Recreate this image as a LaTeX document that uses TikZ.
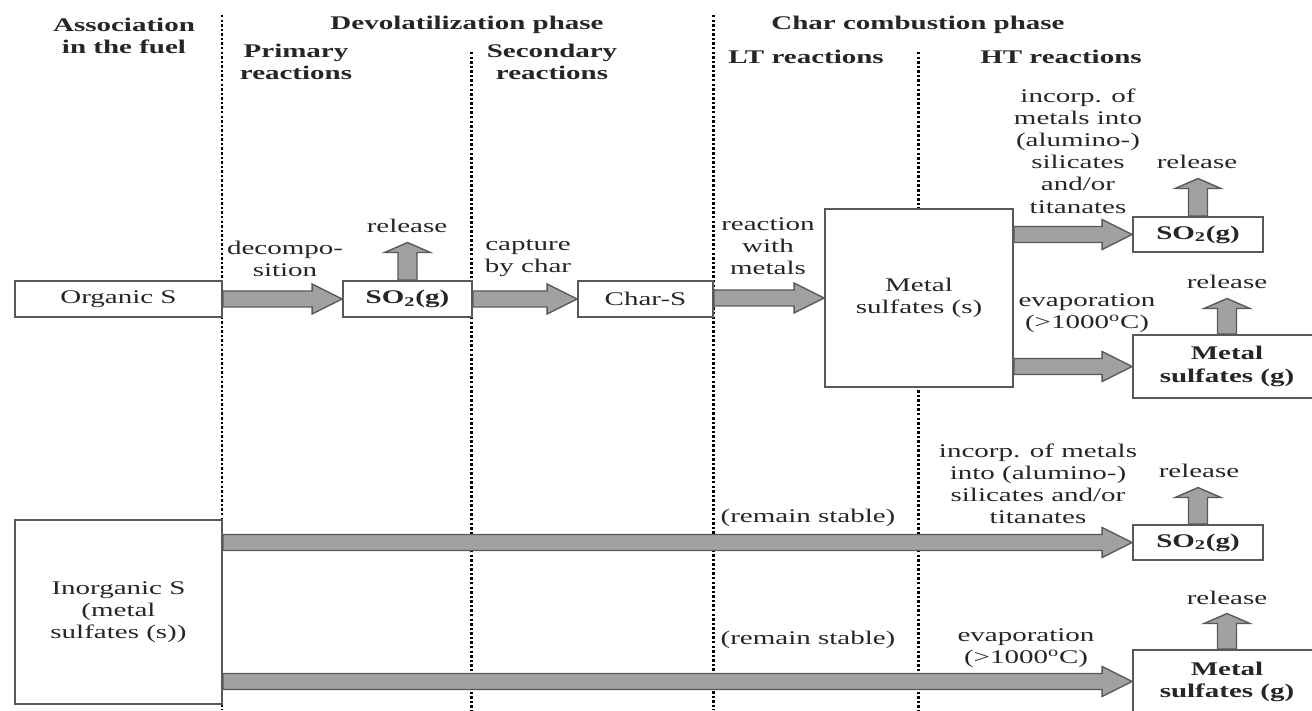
\documentclass[tikz,border=0pt]{standalone}
\usepackage{fontspec}
\setmainfont{Liberation Serif}[FakeStretch=1.5]
\usetikzlibrary{calc}
\def\hfat(#1)(#2){\draw[fatarrow] let \p1=(#1), \p2=(#2) in (\x1,\y2+0.16cm) -- (\x2-0.6cm,\y2+0.16cm) -- (\x2-0.6cm,\y2+0.3cm) -- (\x2,\y2) -- (\x2-0.6cm,\y2-0.3cm) -- (\x2-0.6cm,\y2-0.16cm) -- (\x1,\y2-0.16cm) -- cycle;}
\def\vfat(#1)(#2){\draw[fatarrow] let \p1=(#1), \p2=(#2) in (\x1-0.19cm,\y1) -- (\x1-0.19cm,\y2-0.2cm) -- (\x1-0.46cm,\y2-0.2cm) -- (\x1,\y2) -- (\x1+0.46cm,\y2-0.2cm) -- (\x1+0.19cm,\y2-0.2cm) -- (\x1+0.19cm,\y1) -- cycle;}
\tikzset{
	box/.style={draw=black!65, line width=1pt, fill=white, inner sep=0pt, align=center, text=black!85},
	lbl/.style={align=center, text=black!85, inner sep=0pt},
	head/.style={lbl, font=\bfseries},
	rel/.style={lbl, anchor=base, inner sep=0.18cm},
	phase/.style={black, line width=1.7pt, dash pattern=on 1.4pt off 1.2pt},
	fatarrow/.style={draw=black!65, fill=black!37, line width=0.8pt, line join=miter},
}
\begin{document}
\fontsize{11}{12.6}\selectfont
\begin{tikzpicture}
			%%%%% START %%%%%
			\useasboundingbox (0, 0) rectangle (26.24, 14.2);
			
			\node[head] (assoc) at (2.48, 13.48) {Association\\in the fuel};
			\node[head] (devol) at (9.34, 13.7) {Devolatilization phase};
			\node[head] (prim) at (5.92, 12.96) {Primary\\reactions};
			\node[head] (sec) at (11.04, 12.96) {Secondary\\reactions};
			\node[head] (charc) at (18.36, 13.7) {Char combustion phase};
			\node[head] (lt) at (16.12, 13.06) {LT reactions};
			\node[head] (ht) at (21.22, 13.06) {HT reactions};
			
			\draw[phase] (4.44, 13.9) -- (4.44, 0);
			\draw[phase] (9.42, 13.16) -- (9.42, 0);
			\draw[phase] (14.26, 13.9) -- (14.26, 0);
			\draw[phase] (18.36, 13.16) -- (18.36, 0);
			
			\node[box, minimum width=4.14cm, minimum height=0.72cm] (orgS) at (2.37, 8.22) {Organic S};
			\node[box, font=\bfseries, minimum width=2.58cm, minimum height=0.72cm] (so2a) at (8.15, 8.22) {SO\textsubscript{2}(g)};
			\node[box, minimum width=2.7cm, minimum height=0.72cm] (charS) at (12.91, 8.22) {Char-S};
			\node[box, minimum width=3.76cm, minimum height=3.56cm] (mss) at (18.38, 8.24) {Metal\\sulfates (s)};
			
			\node[box, font=\bfseries, minimum width=2.6cm, minimum height=0.7cm] (so2b) at (23.96, 9.51) {SO\textsubscript{2}(g)};
			\node[box, font=\bfseries, minimum width=3.76cm, minimum height=1.26cm] (msg) at (24.54, 6.87) {Metal\\sulfates (g)};
			
			\node[box, minimum width=4.14cm, minimum height=3.68cm] (inorgS) at (2.37, 1.96) {Inorganic S\\(metal\\sulfates (s))};
			\node[box, font=\bfseries, minimum width=2.6cm, minimum height=0.7cm] (so2c) at (23.96, 3.35) {SO\textsubscript{2}(g)};
			\node[box, font=\bfseries, minimum width=3.76cm, minimum height=1.26cm] (msg2) at (24.54, 0.57) {Metal\\sulfates (g)};
			
			\node[lbl] (decomp) at (5.70, 9.03) {decompo-\\sition};
			\node[lbl] (capt) at (10.56, 9.03) {capture\\by char};
			\node[lbl] (react) at (15.36, 9.27) {reaction\\with\\metals};
			\node[lbl] (incorpA) at (21.56, 11.18) {incorp. of\\metals into\\(alumino-)\\silicates\\and/or\\titanates};
			\node[lbl] (evapA) at (21.74, 7.93) {evaporation\\(>1000\textsuperscript{o}C)};
			\node[lbl] (stableA) at (16.16, 3.84) {(remain stable)};
			\node[lbl] (incorpB) at (20.76, 4.52) {incorp. of metals\\into (alumino-)\\silicates and/or\\titanates};
			\node[lbl] (stableB) at (16.16, 1.4) {(remain stable)};
			\node[lbl] (evapB) at (20.52, 1.23) {evaporation\\(>1000\textsuperscript{o}C)};
			
			\node[rel] (relA) at (8.14, 9.54) {release};
			\node[rel] (relB) at (23.94, 10.82) {release};
			\node[rel] (relC) at (24.54, 8.42) {release};
			\node[rel] (relD) at (23.98, 4.64) {release};
			\node[rel] (relE) at (24.54, 2.12) {release};
			
			\hfat(orgS.east)(so2a.west)
			\hfat(so2a.east)(charS.west)
			\hfat(charS.east)(mss.west)
			\hfat(mss.east)(so2b.west)
			\hfat(mss.east)(msg.west)
			\hfat(inorgS.east)(so2c.west)
			\hfat(inorgS.east)(msg2.west)
			
			\vfat(so2a.north)(relA.south)
			\vfat(so2b.north)(relB.south)
			\vfat(msg.north)(relC.south)
			\vfat(so2c.north)(relD.south)
			\vfat(msg2.north)(relE.south)
			
			%%%%% END %%%%%
\end{tikzpicture}
\end{document}
